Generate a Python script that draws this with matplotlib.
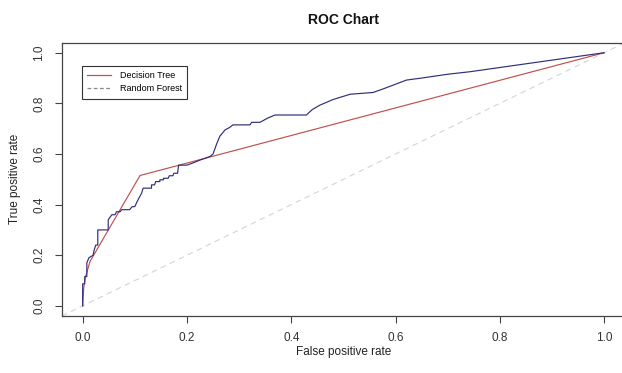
import matplotlib
matplotlib.use("Agg")
import matplotlib.pyplot as plt

plt.rcParams['font.family'] = ['Liberation Sans', 'DejaVu Sans']

# Decision Tree ROC points
dt_fpr = [0.0, 0.002, 0.005, 0.014, 0.11, 1.0]
dt_tpr = [0.0, 0.07, 0.11, 0.175, 0.515, 1.0]

# Random Forest ROC points (drawn in dark blue)
rf_fpr = [0.0, 0.0, 0.004, 0.004, 0.008, 0.008, 0.012, 0.02, 0.022, 0.025, 0.029,
          0.029, 0.049, 0.049, 0.056, 0.062, 0.065, 0.072, 0.075, 0.09, 0.095,
          0.1, 0.104, 0.108, 0.113, 0.116, 0.132, 0.132, 0.138, 0.14, 0.148,
          0.148, 0.155, 0.155, 0.164, 0.166, 0.173, 0.175, 0.182, 0.184, 0.2,
          0.212, 0.225, 0.244, 0.25, 0.257, 0.263, 0.273, 0.282, 0.288, 0.321,
          0.324, 0.34, 0.355, 0.369, 0.429, 0.44, 0.455, 0.48, 0.513, 0.557,
          0.58, 0.621, 0.65, 0.7, 0.743, 1.0]
rf_tpr = [0.0, 0.087, 0.087, 0.116, 0.116, 0.17, 0.19, 0.2, 0.22, 0.24, 0.24,
          0.30, 0.30, 0.34, 0.36, 0.36, 0.372, 0.372, 0.38, 0.38, 0.392,
          0.392, 0.41, 0.426, 0.445, 0.465, 0.465, 0.478, 0.478, 0.491, 0.491,
          0.498, 0.498, 0.504, 0.504, 0.514, 0.514, 0.524, 0.524, 0.556, 0.556,
          0.565, 0.576, 0.59, 0.60, 0.64, 0.67, 0.695, 0.705, 0.715, 0.715,
          0.725, 0.725, 0.742, 0.754, 0.754, 0.775, 0.793, 0.815, 0.836, 0.843,
          0.86, 0.892, 0.9, 0.915, 0.925, 1.0]

ticks = [0.0, 0.2, 0.4, 0.6, 0.8, 1.0]
tick_labels = ["0.0", "0.2", "0.4", "0.6", "0.8", "1.0"]
legend_labels = ["Decision Tree", "Random Forest"]

W, H = 622, 373
fig = plt.figure(figsize=(W / 100, H / 100), dpi=100)
x0, x1 = 61.8, 625.0
y0, y1 = 316.0, 42.6
ax = fig.add_axes([x0 / W, 1 - y0 / H, (x1 - x0) / W, (y0 - y1) / H])

ax.set_xlim(-0.04, 1.04)
ax.set_ylim(-0.04, 1.04)

# diagonal reference
ax.plot([-0.04, 1.04], [-0.04, 1.04], color='#d4d4d4', lw=0.8, ls=(0, (5, 4)))
ax.plot(dt_fpr, dt_tpr, color='#c0504d', lw=0.85)
ax.plot(rf_fpr, rf_tpr, color='#2e2e7a', lw=0.85)

for s in ax.spines.values():
    s.set_color('#444444')
    s.set_linewidth(0.9)

ax.set_xticks(ticks)
ax.set_xticklabels(tick_labels)
ax.set_yticks(ticks)
ax.set_yticklabels(tick_labels, rotation=90, va='center')
ax.tick_params(direction='out', length=4.8, width=0.8, color='#444444',
               labelsize=8.5, labelcolor='#333333', pad=7)

fig.text(343.4 / W, 1 - 352 / H, "False positive rate", ha='center', va='center',
         fontsize=8.5, color='#222222')
fig.text(15 / W, 1 - 179 / H, "True positive rate", ha='center', va='center',
         rotation=90, fontsize=8.5, color='#222222')
fig.text(343.4 / W, 1 - 20 / H, "ROC Chart", ha='center', va='center',
         fontsize=10, fontweight='bold', color='#111111')

from matplotlib.lines import Line2D
handles = [Line2D([], [], color='#c0504d', lw=0.9),
           Line2D([], [], color='#888888', lw=0.9, ls=(0, (3, 2)))]
leg = ax.legend(handles, legend_labels, loc='upper left',
                bbox_to_anchor=((82 - x0) / (x1 - x0), (y0 - 66) / (y0 - y1)),
                fontsize=6.5, frameon=True, fancybox=False, framealpha=1,
                edgecolor='#333333', handlelength=2.6, handletextpad=1.0,
                borderpad=0.6, labelspacing=0.45, borderaxespad=0)
leg.get_frame().set_linewidth(0.8)

fig.savefig("out.png", dpi=100)
